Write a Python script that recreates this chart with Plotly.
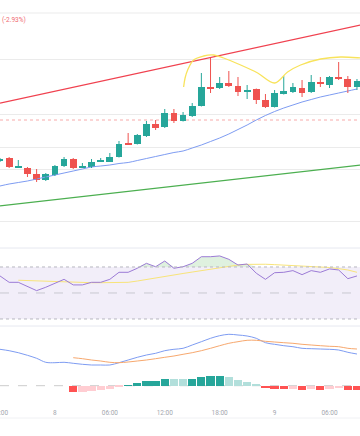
import numpy as np
import plotly.graph_objects as go

# ---------------- data (hours from day-8 00:00) ----------------
hours = list(range(-6, 34))
opens  = [33.9, 34.2, 33.27, 33.2, 32.6, 32.0, 32.5, 33.4, 34.1, 33.25, 33.3, 33.87, 33.8, 34.3, 35.65, 35.6,
          36.4, 37.6, 37.3, 38.7, 37.9, 38.4, 39.4, 41.3, 41.2, 41.7, 41.4, 40.8, 41.1, 40.0, 39.3, 40.6,
          40.8, 41.2, 40.8, 41.8, 41.5, 42.3, 42.1, 41.3]
closes = [34.1, 33.3, 33.3, 32.6, 32.0, 32.6, 33.4, 34.1, 33.2, 33.3, 33.8, 33.9, 34.3, 35.6, 35.55, 36.5,
          37.6, 37.2, 38.7, 37.9, 38.5, 39.4, 41.3, 41.1, 41.7, 41.4, 40.8, 41.0, 40.0, 39.3, 40.7, 40.9,
          41.3, 40.7, 41.8, 41.6, 42.3, 42.1, 41.3, 41.9]
highs  = [34.2, 34.3, 34.0, 33.3, 33.1, 32.7, 33.5, 34.3, 34.2, 33.7, 34.1, 34.2, 34.7, 35.9, 36.7, 36.6,
          37.9, 38.0, 39.1, 39.1, 38.8, 39.7, 42.7, 44.2, 42.3, 42.9, 42.3, 41.5, 41.15, 40.6, 41.0, 42.4,
          41.7, 42.0, 42.5, 42.3, 42.4, 43.8, 42.4, 42.1]
lows   = [33.8, 33.2, 33.25, 32.3, 31.8, 31.9, 32.4, 33.3, 33.1, 33.2, 33.2, 33.8, 33.8, 34.25, 35.5, 35.55,
          36.3, 37.0, 37.2, 37.7, 37.85, 38.3, 39.35, 40.7, 41.1, 41.3, 40.4, 40.1, 39.6, 39.2, 39.25, 40.55,
          40.7, 40.3, 40.7, 41.3, 41.2, 42.0, 40.7, 41.0]
ma_line = [31.4, 31.6, 31.75, 31.9, 32.1, 32.3, 32.5, 32.7, 32.9, 33.1, 33.3, 33.4, 33.5, 33.65, 33.75, 33.95,
           34.15, 34.35, 34.55, 34.75, 34.9, 35.2, 35.5, 35.85, 36.2, 36.6, 37.05, 37.5, 38.0, 38.45, 38.85,
           39.2, 39.5, 39.8, 40.05, 40.3, 40.5, 40.7, 40.9, 41.1]

# drawings on the price pane
red_trend_x = [-6, 34]
red_trend_y = [39.69, 47.61]
green_trend_x = [-6, 34]
green_trend_y = [29.42, 33.56]
arc_x = [14.06, 14.22, 14.5, 15.15, 16.24, 17.34, 18.43, 20.29, 22.15, 24.0,
         25.42, 26.84, 29.03, 31.21, 33.39, 34.0]
arc_y = [41.3, 42.2, 43.0, 44.0, 44.4, 44.5, 44.2, 43.5, 42.7, 41.7,
         42.8, 43.5, 44.1, 44.3, 44.2, 44.15]
last_price = 38.0
price_grid = [44.1, 38.6, 35.3, 33.1, 27.9]

# RSI pane
rsi = [63.1, 58.2, 58.2, 54.8, 51.8, 54.4, 57.5, 60.5, 56.2, 56.2, 58.2, 58.2, 60.5, 65.9, 65.9, 69.0,
       72.8, 70.2, 74.6, 69.0, 70.2, 72.8, 77.9, 77.9, 78.5, 75.9, 71.5, 72.3, 65.2, 60.5, 65.6, 65.9,
       67.2, 64.1, 67.2, 65.9, 68.5, 67.7, 61.0, 63.1]
rsi_ma_hours = list(range(-4, 34))
rsi_ma = [59.8, 59.5, 59.2, 59.0, 58.8, 58.6, 58.5, 58.2, 57.9, 57.9, 57.9, 58.0, 58.2, 59.2, 60.4, 61.7,
          63.1, 64.0, 65.0, 66.1, 67.2, 68.4, 69.6, 70.6, 71.5, 72.0, 72.3, 72.1, 71.8, 71.5, 71.2, 70.8,
          70.5, 70.1, 69.6, 68.7, 67.7, 65.9]

# MACD pane
dif = [3.64, 3.5, 3.3, 3.04, 2.74, 2.34, 2.3, 2.34, 2.24, 2.14, 2.07, 2.07, 2.07, 2.3, 2.57, 2.84,
       3.07, 3.24, 3.5, 3.64, 3.74, 4.07, 4.4, 4.74, 5.0, 5.14, 5.07, 4.97, 4.74, 4.3, 4.14, 4.0,
       3.9, 3.74, 3.7, 3.67, 3.64, 3.57, 3.34, 3.17]
dea_hours = list(range(2, 34))
dea = [2.8, 2.7, 2.57, 2.47, 2.34, 2.3, 2.37, 2.47, 2.57, 2.7, 2.84, 2.97, 3.14, 3.3, 3.5, 3.74,
       4.0, 4.24, 4.4, 4.54, 4.54, 4.44, 4.37, 4.3, 4.24, 4.14, 4.07, 4.0, 3.94, 3.9, 3.74, 3.67]
hist_hours = list(range(2, 34))
hist = [-0.6, -0.58, -0.53, -0.47, -0.37, -0.13, 0.07, 0.27, 0.47, 0.5, 0.7, 0.67, 0.66, 0.7, 0.87, 0.93,
        1.0, 0.83, 0.6, 0.4, 0.13, -0.27, -0.3, -0.33, -0.31, -0.43, -0.37, -0.38, -0.3, -0.27, -0.43, -0.44]

tick_hours = [-6, 0, 6, 12, 18, 24, 30]
tick_text = ["18:00", "8", "06:00", "12:00", "18:00", "9", "06:00"]
header_text = "(-2.93%)"

# ---------------- styling helpers ----------------
W, H = 360, 436
def py(px):
    return 1 - px / H

UP, DOWN = "#26A69A", "#EF5350"
X_RANGE = [-6.0, 33.33]

fig = go.Figure()

# trend lines / MA beneath candles
fig.add_trace(go.Scatter(x=green_trend_x, y=green_trend_y, mode="lines",
                         line=dict(color="#4CAF50", width=1.2), xaxis="x", yaxis="y", hoverinfo="skip"))
fig.add_trace(go.Scatter(x=hours, y=ma_line, mode="lines", line=dict(color="#7E9CF2", width=1, shape="spline"),
                         xaxis="x", yaxis="y", hoverinfo="skip"))

# candles: wicks + bodies
for col, cond in ((UP, lambda o, c: c >= o), (DOWN, lambda o, c: c < o)):
    wx, wy = [], []
    bx, bb, bh = [], [], []
    for h, o, c, hi, lo in zip(hours, opens, closes, highs, lows):
        if not cond(o, c):
            continue
        wx += [h, h, None]
        wy += [lo, hi, None]
        bx.append(h)
        bb.append(min(o, c))
        bh.append(max(abs(c - o), 0.12))
    fig.add_trace(go.Scatter(x=wx, y=wy, mode="lines", line=dict(color=col, width=1),
                             xaxis="x", yaxis="y", hoverinfo="skip"))
    fig.add_trace(go.Bar(x=bx, y=bh, base=bb, width=0.74, marker=dict(color=col, line=dict(width=0)),
                         xaxis="x", yaxis="y", hoverinfo="skip"))

fig.add_trace(go.Scatter(x=red_trend_x, y=red_trend_y, mode="lines",
                         line=dict(color="#F0414F", width=1.2), xaxis="x", yaxis="y", hoverinfo="skip"))
fig.add_trace(go.Scatter(x=arc_x, y=arc_y, mode="lines", line=dict(color="#F8E35C", width=1.3, shape="spline"),
                         xaxis="x", yaxis="y", hoverinfo="skip"))

# RSI pane
fig.add_trace(go.Scatter(x=hours, y=[70] * len(hours), mode="lines", line=dict(width=0),
                         xaxis="x2", yaxis="y2", hoverinfo="skip"))
fig.add_trace(go.Scatter(x=hours, y=list(np.maximum(np.array(rsi), 70)), mode="lines", line=dict(width=0),
                         fill="tonexty", fillcolor="rgba(76,175,80,0.18)", xaxis="x2", yaxis="y2", hoverinfo="skip"))
fig.add_trace(go.Scatter(x=rsi_ma_hours, y=rsi_ma, mode="lines", line=dict(color="#F8E47A", width=1),
                         xaxis="x2", yaxis="y2", hoverinfo="skip"))
fig.add_trace(go.Scatter(x=hours, y=rsi, mode="lines", line=dict(color="#9C7BD6", width=1),
                         xaxis="x2", yaxis="y2", hoverinfo="skip"))

# MACD pane
hcols = []
prev = None
for v in hist:
    if v >= 0:
        hcols.append("#26A69A" if (prev is None or v >= prev) else "#B2DFDB")
    else:
        hcols.append("#FF5252" if (prev is None or v <= prev) else "#FFCDD2")
    prev = v
fig.add_trace(go.Bar(x=hist_hours, y=hist, width=0.9, marker=dict(color=hcols, line=dict(width=0)),
                     xaxis="x3", yaxis="y3", hoverinfo="skip"))
fig.add_trace(go.Scatter(x=hours, y=dif, mode="lines", line=dict(color="#7E9CF2", width=1, shape="spline"),
                         xaxis="x3", yaxis="y3", hoverinfo="skip"))
fig.add_trace(go.Scatter(x=dea_hours, y=dea, mode="lines", line=dict(color="#F7A86E", width=1, shape="spline"),
                         xaxis="x3", yaxis="y3", hoverinfo="skip"))

shapes = [
    # header / pane separators
    dict(type="line", xref="paper", yref="paper", x0=0, x1=1, y0=py(13), y1=py(13), line=dict(color="#EBEBEB", width=1)),
    dict(type="line", xref="paper", yref="paper", x0=0, x1=1, y0=py(248), y1=py(248), line=dict(color="#E6E8F0", width=1)),
    dict(type="line", xref="paper", yref="paper", x0=0, x1=1, y0=py(326), y1=py(326), line=dict(color="#E6E8F0", width=1)),
    dict(type="line", xref="paper", yref="paper", x0=0, x1=1, y0=py(418), y1=py(418), line=dict(color="#F0F1F4", width=1)),
    # last price line
    dict(type="line", xref="paper", yref="y", x0=0, x1=1, y0=last_price, y1=last_price,
         line=dict(color="#F7AAAA", width=1, dash="dot"), layer="below"),
    # RSI band
    dict(type="rect", xref="paper", yref="y2", x0=0, x1=1, y0=30, y1=70,
         fillcolor="rgba(126,87,194,0.1)", line=dict(width=0), layer="below"),
    dict(type="line", xref="paper", yref="y2", x0=0, x1=1, y0=70, y1=70, line=dict(color="#B8B8C0", width=1, dash="dot")),
    dict(type="line", xref="paper", yref="y2", x0=0, x1=1, y0=30, y1=30, line=dict(color="#B8B8C0", width=1, dash="dot")),
    dict(type="line", xref="paper", yref="y2", x0=0, x1=1, y0=50, y1=50, line=dict(color="#C8C8D0", width=1, dash="dash")),
    # MACD zero
    dict(type="line", xref="paper", yref="y3", x0=0, x1=1, y0=0, y1=0,
         line=dict(color="#CCCCCC", width=1, dash="dash"), layer="below"),
]

ax_common = dict(range=X_RANGE, showgrid=False, zeroline=False, showline=False, fixedrange=True, automargin=False)
fig.update_layout(
    width=W, height=H, margin=dict(l=0, r=0, t=0, b=0, autoexpand=False),
    paper_bgcolor="white", plot_bgcolor="white",
    showlegend=False, barmode="overlay", bargap=0,
    font=dict(family="Roboto, Noto Sans, sans-serif"),
    xaxis=dict(**ax_common, domain=[0, 1], anchor="y", showticklabels=False),
    xaxis2=dict(**ax_common, domain=[0, 1], anchor="y2", showticklabels=False, matches="x"),
    xaxis3=dict(**ax_common, domain=[0, 1], anchor="y3", matches="x",
                tickmode="array", tickvals=tick_hours, ticktext=tick_text,
                ticks="outside", ticklen=6, tickcolor="rgba(0,0,0,0)", ticklabeloverflow="allow",
                tickfont=dict(size=6.5, color="#A3A6AE")),
    yaxis=dict(domain=[py(248), py(13)], range=[25.2, 48.7], tickmode="array", tickvals=price_grid,
               showticklabels=False, showgrid=True, gridcolor="#EBEBEB", gridwidth=1, zeroline=False,
               fixedrange=True, automargin=False),
    yaxis2=dict(domain=[py(326), py(248)], range=[24.6, 84.6], showticklabels=False, showgrid=False,
                zeroline=False, fixedrange=True, automargin=False),
    yaxis3=dict(domain=[py(400), py(326)], range=[-1.43, 5.97], showticklabels=False, showgrid=False,
                zeroline=False, fixedrange=True, automargin=False),
    shapes=shapes,
    annotations=[dict(xref="paper", yref="paper", x=0, y=py(20), xanchor="left", yanchor="middle",
                      text=header_text, showarrow=False, font=dict(size=6.5, color="#F06A72"))],
)

fig.write_html("out.html", config={"displayModeBar": False},
               post_script="document.body.style.margin='0';document.body.style.overflow='hidden';")
